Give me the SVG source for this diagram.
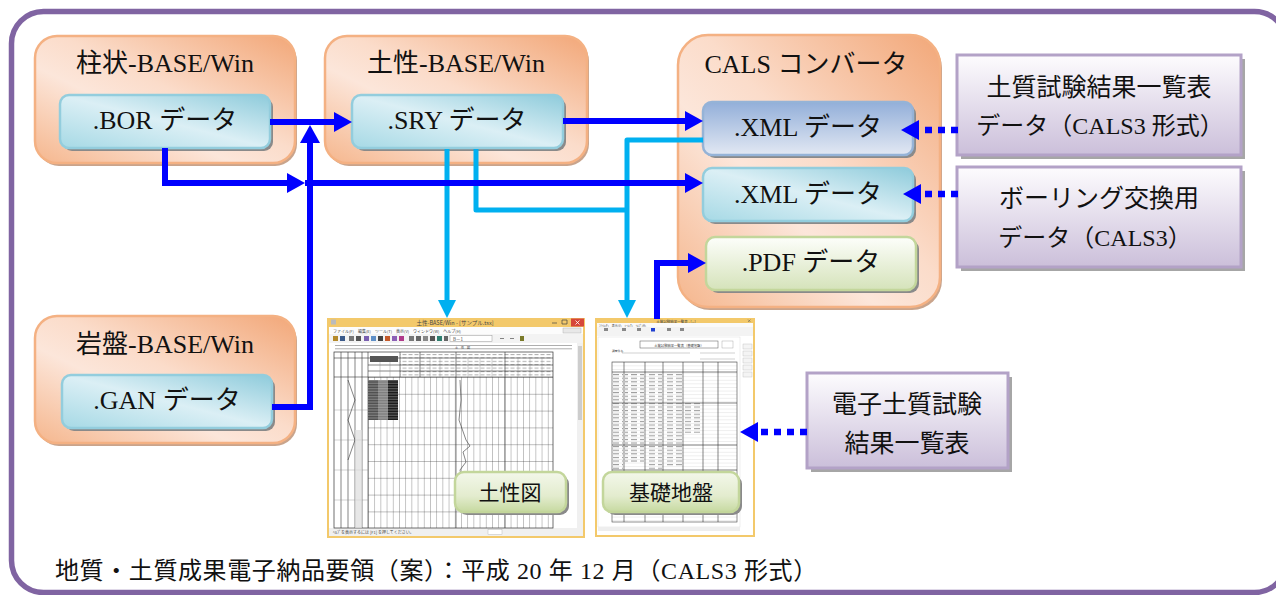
<svg xmlns="http://www.w3.org/2000/svg" width="1276" height="595" viewBox="0 0 1276 595">
<style>
.t{font-family:"Liberation Serif","Noto Sans CJK JP",serif;fill:#111;text-anchor:middle}
.l{font-family:"Liberation Serif",serif}
.j{font-family:"Noto Sans CJK JP","Liberation Sans",sans-serif;fill:#111;text-anchor:middle}
.tiny{font-family:"Noto Sans CJK JP","Liberation Sans",sans-serif;fill:#444}
.outer{fill:url(#gOr);stroke:#f4b183;stroke-width:2.5}
.oshadow{fill:#c9a48c}
.cyan{fill:url(#gCy);stroke:#93cddd;stroke-width:2.5}
.ishadow{fill:#8a8a8a}
.purp{fill:url(#gPu);stroke:#b3a2c7;stroke-width:3}
.pshadow{fill:#a6a6a6}
.lbl{fill:url(#gLb);stroke:#c3d69b;stroke-width:2.5}
.blue{fill:none;stroke:#0000ff;stroke-width:6}
.lb{fill:none;stroke:#00b0f0;stroke-width:5;stroke-linejoin:round}
.dot{fill:none;stroke:#0000ff;stroke-width:6.5;stroke-dasharray:7 6}
.gl{stroke:#333;stroke-width:0.6}
.gl2{stroke:#888;stroke-width:0.4}
</style>
<defs>
<linearGradient id="gOr" x1="1" y1="0" x2="0" y2="1">
<stop offset="0" stop-color="#f2a778"/><stop offset="0.45" stop-color="#fbdcca"/><stop offset="0.62" stop-color="#fce6da"/><stop offset="1" stop-color="#f5b68d"/>
</linearGradient>
<linearGradient id="gCy" x1="1" y1="0" x2="0" y2="1">
<stop offset="0" stop-color="#8ecbdb"/><stop offset="0.5" stop-color="#dbeff5"/><stop offset="1" stop-color="#a6d9e5"/>
</linearGradient>
<linearGradient id="gBl" x1="0" y1="0" x2="0" y2="1">
<stop offset="0" stop-color="#93afd9"/><stop offset="1" stop-color="#e2e8f3"/>
</linearGradient>
<linearGradient id="gGr" x1="0" y1="0" x2="0" y2="1">
<stop offset="0" stop-color="#fdfefb"/><stop offset="1" stop-color="#d5e3ba"/>
</linearGradient>
<linearGradient id="gPu" x1="0" y1="0" x2="0" y2="1">
<stop offset="0" stop-color="#fdfcfe"/><stop offset="1" stop-color="#cbbfda"/>
</linearGradient>
<linearGradient id="gLb" x1="0" y1="0" x2="0" y2="1">
<stop offset="0" stop-color="#f3f7ea"/><stop offset="0.6" stop-color="#e3ecce"/><stop offset="1" stop-color="#c6d9a0"/>
</linearGradient>
<marker id="aB" markerUnits="userSpaceOnUse" markerWidth="18" markerHeight="20" refX="0" refY="10" orient="auto">
<path d="M0,0 L18,10 L0,20 z" fill="#0000ff"/>
</marker>
<marker id="aL" markerUnits="userSpaceOnUse" markerWidth="18" markerHeight="20" refX="0" refY="10" orient="auto">
<path d="M0,1 L18,10 L0,19 z" fill="#00b0f0"/>
</marker>
<pattern id="grid1" x="368" y="377" width="6.2" height="16.8" patternUnits="userSpaceOnUse">
<path d="M0,0 V16.8 M0,0 H6.2" stroke="#333" stroke-width="0.6" fill="none"/>
</pattern>
<pattern id="stripe" x="0" y="380" width="4" height="1.6" patternUnits="userSpaceOnUse">
<rect width="4" height="0.6" fill="#ddd" opacity="0.5"/>
</pattern>
<pattern id="rows2" x="0" y="369" width="10" height="3.6" patternUnits="userSpaceOnUse">
<path d="M0,0 H10" stroke="#aaa" stroke-width="0.4"/>
</pattern>
<pattern id="marks2" x="0" y="370.5" width="9" height="3.6" patternUnits="userSpaceOnUse">
<rect x="1" y="0" width="6" height="1.1" fill="#9a9a9a"/>
</pattern>
<pattern id="marks1" x="0" y="354" width="6" height="3.4" patternUnits="userSpaceOnUse">
<rect x="0.5" y="0" width="4" height="1" fill="#999"/>
</pattern>
</defs>

<rect id="frame" x="11.5" y="11.5" width="1275" height="581" rx="32" fill="#fff" stroke="#8064a2" stroke-width="5.5"/>

<!-- 柱状-BASE/Win -->
<g id="node-chujo">
<rect class="oshadow" x="37" y="39" width="260" height="127" rx="22"/>
<rect class="outer" x="35" y="36" width="260" height="127" rx="22"/>
<text class="t" x="165" y="72" font-size="26">柱状<tspan class="l">-BASE/Win</tspan></text>
</g>
<g id="node-bor">
<rect class="ishadow" x="63" y="98" width="210" height="53" rx="9"/>
<rect class="cyan" x="60" y="95" width="210" height="53" rx="9"/>
<text class="t" x="165" y="129" font-size="26"><tspan class="l">.BOR </tspan>データ</text>
</g>

<!-- 土性-BASE/Win -->
<g id="node-dosei">
<rect class="oshadow" x="327" y="39" width="262" height="127" rx="22"/>
<rect class="outer" x="325" y="36" width="262" height="127" rx="22"/>
<text class="t" x="456" y="72" font-size="26">土性<tspan class="l">-BASE/Win</tspan></text>
</g>
<g id="node-sry">
<rect class="ishadow" x="355" y="98" width="211" height="53" rx="9"/>
<rect class="cyan" x="352" y="95" width="211" height="53" rx="9"/>
<text class="t" x="457" y="129" font-size="26"><tspan class="l">.SRY </tspan>データ</text>
</g>

<!-- 岩盤-BASE/Win -->
<g id="node-ganban">
<rect class="oshadow" x="37" y="319" width="260" height="127" rx="22"/>
<rect class="outer" x="35" y="316" width="260" height="127" rx="22"/>
<text class="t" x="165" y="353" font-size="26">岩盤<tspan class="l">-BASE/Win</tspan></text>
</g>
<g id="node-gan">
<rect class="ishadow" x="65" y="378" width="210" height="53" rx="9"/>
<rect class="cyan" x="62" y="375" width="210" height="53" rx="9"/>
<text class="t" x="167" y="409" font-size="26"><tspan class="l">.GAN </tspan>データ</text>
</g>

<!-- CALS コンバータ -->
<g id="node-cals">
<rect class="oshadow" x="680" y="38" width="262" height="272" rx="30"/>
<rect class="outer" x="678" y="35" width="262" height="272" rx="30"/>
<text class="t" x="806" y="73" font-size="26"><tspan class="l">CALS </tspan>コンバータ</text>
</g>
<g id="node-xml1">
<rect class="ishadow" x="706" y="105" width="210" height="53" rx="9"/>
<rect x="703" y="102" width="210" height="53" rx="9" fill="url(#gBl)" stroke="#95b3d7" stroke-width="2.5"/>
<text class="t" x="808" y="136" font-size="26"><tspan class="l">.XML </tspan>データ</text>
</g>
<g id="node-xml2">
<rect class="ishadow" x="706" y="171" width="210" height="53" rx="9"/>
<rect class="cyan" x="703" y="168" width="210" height="53" rx="9"/>
<text class="t" x="808" y="203" font-size="26"><tspan class="l">.XML </tspan>データ</text>
</g>
<g id="node-pdf">
<rect class="ishadow" x="709" y="240" width="210" height="53" rx="9"/>
<rect x="706" y="237" width="210" height="53" rx="9" fill="url(#gGr)" stroke="#c3d69b" stroke-width="2.5"/>
<text class="t" x="811" y="271" font-size="26"><tspan class="l">.PDF </tspan>データ</text>
</g>

<!-- right purple boxes -->
<g id="node-shiken-cals">
<rect class="pshadow" x="961" y="59" width="284" height="100"/>
<rect class="purp" x="957" y="55" width="284" height="100"/>
<text class="t" x="1099" y="96" font-size="25">土質試験結果一覧表</text>
<text class="t" x="1100" y="134" font-size="24">データ（<tspan class="l">CALS3 </tspan>形式）</text>
</g>
<g id="node-boring-cals">
<rect class="pshadow" x="961" y="171" width="284" height="100"/>
<rect class="purp" x="957" y="167" width="284" height="100"/>
<text class="t" x="1099" y="207" font-size="25">ボーリング交換用</text>
<text class="t" x="1095" y="246" font-size="24">データ（<tspan class="l">CALS3</tspan>）</text>
</g>
<g id="node-denshi">
<rect class="pshadow" x="811" y="377" width="201" height="95"/>
<rect class="purp" x="807" y="373" width="201" height="95"/>
<text class="t" x="907" y="413" font-size="25">電子土質試験</text>
<text class="t" x="907" y="452" font-size="25">結果一覧表</text>
</g>

<!-- screenshot 1: 土性図 -->
<g id="screenshot-doseizu">
<rect x="327" y="318" width="258" height="220" fill="#f3c96b"/>
<rect x="329" y="327" width="254" height="209" fill="#fff"/>
<rect x="331" y="319.5" width="5" height="5" fill="#bbb"/>
<text class="tiny" x="455" y="325" font-size="5.5" text-anchor="middle">土性-BASE/Win - [サンプル.tsx]</text>
<path d="M552,323 h5 M562,320 h5 v4 h-5 z" stroke="#444" stroke-width="0.7" fill="none"/>
<rect x="571" y="318.5" width="13" height="8" fill="#d6473a"/>
<path d="M575.5,320.5 l4,4 M579.5,320.5 l-4,4" stroke="#fff" stroke-width="0.8"/>
<rect x="329" y="327" width="254" height="7" fill="#fcfcfc"/>
<text class="tiny" x="333" y="332.5" font-size="4">ファイル(F)　編集(E)　ツール(T)　表示(V)　ウィンドウ(W)　ヘルプ(H)</text>
<rect x="563" y="328" width="18" height="5" fill="#e8e8e8" stroke="#aaa" stroke-width="0.4"/>
<rect x="329" y="334" width="254" height="9" fill="#f3f3f3"/>
<g>
<rect x="333" y="336" width="5" height="5" fill="#b58a2a"/><rect x="340" y="336" width="5" height="5" fill="#3b5a8a"/>
<rect x="349" y="336" width="5" height="5" fill="#777"/><rect x="356" y="336" width="5" height="5" fill="#555"/>
<rect x="364" y="336" width="5" height="5" fill="#7a5fb0"/><rect x="371" y="336" width="5" height="5" fill="#5e8fc7"/>
<rect x="378" y="336" width="5" height="5" fill="#444"/><rect x="385" y="336" width="5" height="5" fill="#c55a2a"/>
<rect x="392" y="336" width="5" height="5" fill="#8b5fb5"/><rect x="399" y="336" width="5" height="5" fill="#b03a8a"/>
<rect x="409" y="336" width="5" height="5" fill="#777"/><rect x="416" y="336" width="5" height="5" fill="#666"/>
<rect x="423" y="336" width="5" height="5" fill="#888"/><rect x="430" y="336" width="5" height="5" fill="#555"/>
<rect x="437" y="336" width="5" height="5" fill="#2f7f6f"/><rect x="444" y="336" width="4" height="5" fill="#666"/>
</g>
<rect x="450" y="335.5" width="42" height="6" fill="#fff" stroke="#999" stroke-width="0.5"/>
<text class="tiny" x="453" y="340.5" font-size="4.5">B－1</text>
<path d="M500,338.5 h4 M510,338.5 h4" stroke="#666" stroke-width="0.8"/>
<rect x="520" y="336" width="4" height="5" fill="#7a7a2a"/>
<rect x="577" y="343" width="6" height="185" fill="#f0f0f0"/>
<rect x="578" y="346" width="4" height="74" fill="#cdcdcd"/>
<rect x="329" y="528" width="254" height="8" fill="#f0f0f0"/>
<text class="tiny" x="333" y="534" font-size="4">ﾍﾙﾌﾟを表示するには [F1] を押してください。</text>
<rect x="488" y="529.5" width="14" height="5" fill="#fff" stroke="#aaa" stroke-width="0.4"/>
<path d="M335,345.5 H572 M335,348.8 H572" stroke="#777" stroke-width="0.6"/>
<text class="tiny" x="455" y="348.5" font-size="3">土　性　図</text>
<rect x="334" y="352" width="219" height="176" fill="none" stroke="#333" stroke-width="0.7"/>
<rect x="400" y="354" width="153" height="22" fill="url(#marks1)" opacity="0.8"/>
<rect x="368" y="377" width="185" height="151" fill="url(#grid1)"/>
<path class="gl" d="M341,352 V528 M348,352 V528 M355,352 V528 M362,352 V528 M368,352 V528 M400,352 V377 M420,352 V377 M456,352 V377 M505,352 V377 M334,358 H553 M368,365 H553 M368,371 H553 M334,377 H553 M456,377 V528 M505,377 V528"/>
<path class="gl2" d="M380,358 V377 M390,358 V377 M430,358 V377 M440,358 V377 M468,358 V377 M480,358 V377 M492,358 V377 M518,358 V377 M530,358 V377 M542,358 V377 M334,410 H368 M334,440 H368 M334,470 H368 M334,500 H368"/>
<path d="M348,380 L355,400 L348,420 L355,440 L348,460" stroke="#333" stroke-width="0.6" fill="none"/>
<rect x="355" y="430" width="7" height="98" fill="#ddd" opacity="0.7"/>
<rect x="368" y="380" width="10" height="40" fill="#4a4a4a"/>
<rect x="378" y="380" width="10" height="40" fill="#7a7a7a"/>
<rect x="388" y="380" width="10" height="40" fill="#111"/>
<rect x="368" y="380" width="30" height="40" fill="url(#stripe)"/>
<polyline points="460,380 461,400 459,420 466,440 470,446 463,452 466,462 460,470 462,480" fill="none" stroke="#333" stroke-width="0.6"/>
<rect x="370" y="356" width="28" height="6" fill="#555"/>
</g>

<!-- screenshot 2: 基礎地盤 -->
<g id="screenshot-kiso">
<rect x="595" y="318" width="160" height="219" fill="#f3c96b"/>
<rect x="597" y="323" width="156" height="212" fill="#fff"/>
<text class="tiny" x="676" y="322.5" font-size="3.5" text-anchor="middle">土質試験結果一覧表 - [...]</text>
<path d="M748,319.5 l2.5,2.5 M750.5,319.5 l-2.5,2.5" stroke="#555" stroke-width="0.5"/>
<rect x="597" y="323" width="156" height="4" fill="#fafafa"/>
<text class="tiny" x="599" y="326.5" font-size="3">ﾌｧｲﾙ(F)　表示(V)　ﾂｰﾙ(T)　ﾍﾙﾌﾟ(H)</text>
<rect x="597" y="327" width="156" height="9" fill="#f3f3f3"/>
<g fill="#888">
<rect x="604" y="328" width="4" height="3"/><rect x="622" y="328" width="4" height="3"/><rect x="637" y="328" width="4" height="3"/>
<rect x="667" y="328" width="4" height="3"/><rect x="680" y="328" width="4" height="3"/>
</g>
<rect x="651" y="328" width="4" height="3.5" fill="#1f3fd0"/>
<rect x="598" y="337" width="142" height="190" fill="#fff" stroke="#ddd" stroke-width="0.5"/>
<g fill="#f4f4f4" stroke="#bbb" stroke-width="0.4">
<rect x="743" y="344" width="9" height="5"/><rect x="743" y="351" width="9" height="5"/><rect x="743" y="358" width="9" height="5"/><rect x="743" y="365" width="9" height="5"/><rect x="743" y="372" width="9" height="5"/>
</g>
<rect x="598" y="527" width="142" height="4" fill="#eee"/>
<rect x="640" y="341" width="78" height="7" fill="none" stroke="#555" stroke-width="0.5"/>
<text class="tiny" x="679" y="346.5" font-size="3.3" text-anchor="middle">土質試験結果一覧表（基礎地盤）</text>
<rect x="722" y="341" width="11" height="7" fill="none" stroke="#999" stroke-width="0.4"/>
<text class="tiny" x="612" y="352" font-size="2.8">調査件名</text>
<path d="M622,353 H690 M700,353 H735 M700,359 H735" stroke="#888" stroke-width="0.4"/>
<rect x="612" y="362" width="125" height="160" fill="url(#rows2)"/>
<rect x="613" y="372" width="10" height="130" fill="url(#marks2)"/>
<rect x="625" y="372" width="19" height="90" fill="url(#marks2)"/>
<rect x="646" y="372" width="16" height="110" fill="url(#marks2)" opacity="0.9"/>
<rect x="664" y="372" width="18" height="95" fill="url(#marks2)" opacity="0.9"/>
<rect x="684" y="403" width="18" height="30" fill="url(#marks2)" opacity="0.9"/>
<rect x="612" y="362" width="125" height="160" fill="none" stroke="#444" stroke-width="0.6"/>
<path class="gl" d="M624,362 V522 M645,362 V522 M663,362 V522 M683,362 V522 M703,362 V522 M718,362 V522 M612,372 H737 M612,403 H737 M612,445 H737 M612,470 H737 M612,505 H737"/>
</g>

<!-- labels on screenshots -->
<g id="label-doseizu">
<rect x="458" y="475" width="111" height="40" rx="9" fill="#8a8a8a"/>
<rect class="lbl" x="455" y="472" width="111" height="40" rx="9"/>
<text class="j" x="510" y="500" font-size="21">土性図</text>
</g>
<g id="label-kiso">
<rect x="606" y="475" width="136" height="40" rx="9" fill="#8a8a8a"/>
<rect class="lbl" x="603" y="472" width="136" height="40" rx="9"/>
<text class="j" x="671" y="500" font-size="21">基礎地盤</text>
</g>

<!-- connectors -->
<g id="connectors">
<path class="lb" d="M447,149 V300" marker-end="url(#aL)"/>
<path class="lb" d="M476,149 V210 H627"/>
<path class="lb" d="M703,140 H627 V300" marker-end="url(#aL)"/>
<path class="blue" d="M270,122 H334" marker-end="url(#aB)"/>
<path class="blue" d="M272,407 H310 V143" marker-end="url(#aB)"/>
<path class="blue" d="M165,148 V183 H287" marker-end="url(#aB)"/>
<path class="blue" d="M305,183 H685" marker-end="url(#aB)"/>
<path class="blue" d="M563,121 H685" marker-end="url(#aB)"/>
<path class="blue" d="M657,319 V263 H688" marker-end="url(#aB)"/>
<path class="dot" d="M958,130 H919" marker-end="url(#aB)"/>
<path class="dot" d="M958,194 H921" marker-end="url(#aB)"/>
<path class="dot" d="M807,432 H758" marker-end="url(#aB)"/>
</g>

<text id="caption" x="55" y="579" font-family="Liberation Serif, Noto Sans CJK JP, serif" font-size="24" fill="#111" letter-spacing="0.6">地質・土質成果電子納品要領（案）：平成<tspan class="l"> 20 </tspan>年<tspan class="l"> 12 </tspan>月（<tspan class="l">CALS3 </tspan>形式）</text>
</svg>
